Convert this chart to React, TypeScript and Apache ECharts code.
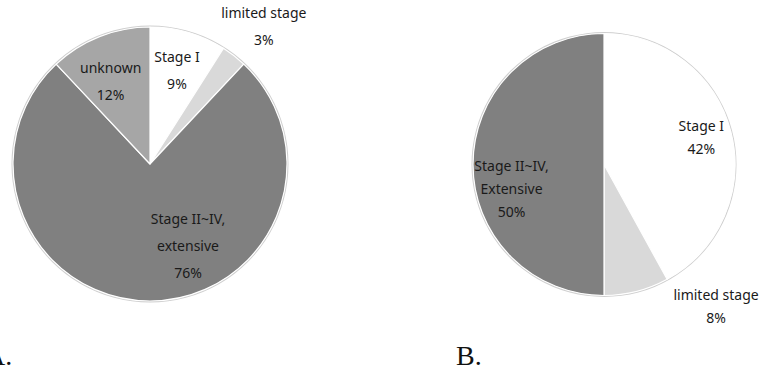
import React, { useEffect, useRef } from "react";
import * as echarts from "echarts";

const namesA = ["Stage I", "limited stage", "Stage II~IV,\nextensive", "unknown"];
const valuesA = [9, 3, 76, 12];
const colorsA = ["#ffffff", "#d9d9d9", "#808080", "#a6a6a6"];
const offsetsA = [[7, -25], [70, -82], [38, 10], [-13, -17]];

const namesB = ["Stage I", "limited stage", "Stage II~IV,\nExtensive"];
const valuesB = [42, 8, 50];
const colorsB = ["#ffffff", "#d9d9d9", "#808080"];
const offsetsB = [[31, -10], [95, 75], [-24, 24]];

const panelLabels = ["A.", "B."];

const FONT = "'Noto Sans', 'Open Sans', sans-serif";

function buildData(names: string[], values: number[], colors: string[], offsets: number[][], lh: number) {
  return names.map((n, i) => ({
    name: n,
    value: values[i],
    itemStyle: { color: colors[i] },
    label: {
      position: "inside",
      offset: offsets[i],
      lineHeight: lh,
    },
  }));
}

export default function App() {
  const ref = useRef<HTMLDivElement>(null);
  useEffect(() => {
    if (!ref.current) return;
    const chart = echarts.init(ref.current, null, { renderer: "svg" });
    const labelBase = {
      show: true,
      formatter: "{b}\n{c}%",
      color: "#1a1a1a",
      fontSize: 14,
      fontFamily: FONT,
      align: "center",
    };
    const ring = (center: number[], r: number) => ({
      type: "pie",
      silent: true,
      center,
      radius: [r, r + 1.5],
      label: { show: false },
      labelLine: { show: false },
      data: [{ value: 1, itemStyle: { color: "#cfcfcf" } }],
      z: 1,
    });
    chart.setOption({
      animation: false,
      backgroundColor: "#ffffff",
      series: [
        ring([150, 164], 137),
        {
          type: "pie",
          center: [150, 164],
          radius: [0, 137],
          startAngle: 90,
          clockwise: true,
          silent: true,
          z: 2,
          itemStyle: { borderColor: "#ffffff", borderWidth: 1.2 },
          label: labelBase,
          labelLine: { show: false },
          data: buildData(namesA, valuesA, colorsA, offsetsA, 27),
        },
        ring([604, 164.5], 131),
        {
          type: "pie",
          center: [604, 164.5],
          radius: [0, 131],
          startAngle: 90,
          clockwise: true,
          silent: true,
          z: 2,
          itemStyle: { borderColor: "#ffffff", borderWidth: 1.2 },
          label: labelBase,
          labelLine: { show: false },
          data: buildData(namesB, valuesB, colorsB, offsetsB, 23),
        },
      ],
      graphic: [
        {
          type: "text",
          x: -15,
          y: 369,
          style: {
            text: panelLabels[0],
            font: "28px 'Liberation Serif', 'DejaVu Serif', serif",
            fill: "#111",
            verticalAlign: "bottom",
          },
        },
        {
          type: "text",
          x: 456,
          y: 369,
          style: {
            text: panelLabels[1],
            font: "28px 'Liberation Serif', 'DejaVu Serif', serif",
            fill: "#111",
            verticalAlign: "bottom",
          },
        },
      ],
    });
    return () => chart.dispose();
  }, []);
  return (
    <div
      ref={ref}
      style={{ position: "fixed", left: 0, top: 0, width: 760, height: 377 }}
    />
  );
}
